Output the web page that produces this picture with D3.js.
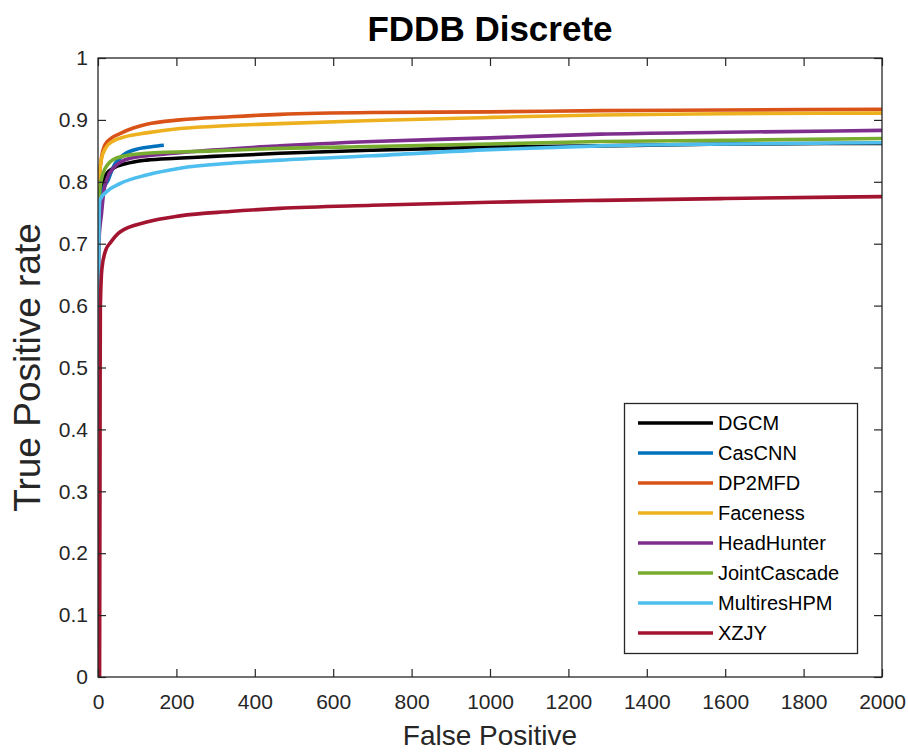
<!DOCTYPE html>
<html><head><meta charset="utf-8">
<script src="https://cdn.jsdelivr.net/npm/d3@7"></script>
<style>
html,body{margin:0;padding:0;background:#fff;}
text{font-family:"Liberation Sans",Arial,Helvetica,sans-serif;}
</style></head>
<body><svg id="chart" width="908" height="753"></svg>
<script>
// ---- data (False Positive, True Positive rate) ----
const seriesNames = ["DGCM","CasCNN","DP2MFD","Faceness","HeadHunter","JointCascade","MultiresHPM","XZJY"];
const dgcm = [[0,0.55],[1,0.70],[3,0.76],[8,0.79],[15,0.805],[22,0.813],[39,0.822],[70,0.829],[124,0.835],[200,0.838],[294,0.841],[464,0.846],[700,0.851],[1000,0.856],[1281,0.858],[1600,0.861],[2000,0.862]];
const cascnn = [[0,0.60],[1,0.70],[5,0.76],[12,0.785],[26,0.803],[39,0.824],[64,0.843],[107,0.854],[140,0.857],[168,0.859]];
const dp2mfd = [[0,0.60],[1,0.73],[3,0.80],[8,0.835],[18,0.860],[35,0.871],[56,0.878],[90,0.887],[124,0.893],[209,0.900],[337,0.905],[464,0.909],[700,0.912],[1000,0.913],[1281,0.915],[1600,0.916],[2000,0.917]];
const faceness = [[0,0.60],[1,0.73],[3,0.80],[8,0.835],[20,0.855],[39,0.866],[70,0.873],[124,0.879],[209,0.886],[337,0.891],[464,0.894],[700,0.899],[1000,0.904],[1281,0.908],[1600,0.910],[2000,0.911]];
const headhunter = [[0,0.55],[2,0.70],[9,0.749],[15,0.785],[22,0.803],[39,0.822],[82,0.838],[209,0.847],[464,0.858],[700,0.865],[1000,0.871],[1281,0.877],[1600,0.880],[2000,0.883]];
const jointcascade = [[0,0.60],[1,0.72],[5,0.79],[13,0.814],[25,0.828],[39,0.836],[70,0.842],[124,0.846],[294,0.850],[464,0.854],[700,0.857],[1000,0.861],[1281,0.865],[1600,0.867],[2000,0.870]];
const multireshpm = [[0,0.40],[1,0.55],[2,0.70],[3,0.75],[5,0.771],[22,0.784],[56,0.797],[124,0.811],[209,0.822],[337,0.830],[464,0.835],[700,0.842],[1000,0.852],[1281,0.858],[1600,0.861],[2000,0.863]];
const xzjy = [[4,0.0],[5,0.30],[5.5,0.50],[6,0.598],[10,0.66],[20,0.69],[31,0.701],[56,0.719],[124,0.735],[209,0.745],[337,0.752],[464,0.757],[700,0.762],[1000,0.767],[1281,0.770],[1600,0.773],[2000,0.776]];
const seriesData = [dgcm,cascnn,dp2mfd,faceness,headhunter,jointcascade,multireshpm,xzjy];
const xTicks = [0,200,400,600,800,1000,1200,1400,1600,1800,2000];
const yTicks = [0,0.1,0.2,0.3,0.4,0.5,0.6,0.7,0.8,0.9,1];
const colors = ["#000000","#0072BD","#D95319","#EDB120","#7E2F8E","#77AC30","#4DBEEE","#A2142F"];

// ---- layout ----
const svg = d3.select("#chart");
const L=98, R=882, T=58, B=677;
const x = d3.scaleLinear().domain([0,2000]).range([L,R]);
const y = d3.scaleLinear().domain([0,1]).range([B,T]);
const axisColor = "#262626";
const tickLen = 8;

svg.append("defs").append("clipPath").attr("id","clip")
  .append("rect").attr("x",L).attr("y",T).attr("width",R-L).attr("height",B-T);

// curves
const line = d3.line().x(d=>x(d[0])).y(d=>y(d[1])).curve(d3.curveMonotoneX);
const g = svg.append("g").attr("clip-path","url(#clip)");
seriesData.forEach((s,i)=>{
  g.append("path").attr("d",line(s)).attr("fill","none")
   .attr("stroke",colors[i]).attr("stroke-width",3.6)
   .attr("stroke-linejoin","round").attr("stroke-linecap","butt");
});

// axes (MATLAB style box, inward ticks)
function styleAxis(sel){
  sel.select(".domain").remove();
  sel.selectAll(".tick line").attr("stroke",axisColor).attr("stroke-width",1.2);
  sel.selectAll(".tick text").attr("fill",axisColor).style("font-size","21px");
}
const fmtY = d=> d===0?"0":(d===1?"1":d3.format(".1f")(d));
svg.append("g").attr("transform",`translate(0,${B})`)
  .call(d3.axisBottom(x).tickValues(xTicks).tickSizeInner(-tickLen).tickSizeOuter(0).tickPadding(17).tickFormat(d3.format("d")))
  .call(styleAxis);
svg.append("g").attr("transform",`translate(0,${T})`)
  .call(d3.axisTop(x).tickValues(xTicks).tickSizeInner(-tickLen).tickSizeOuter(0).tickFormat(""))
  .call(styleAxis);
svg.append("g").attr("transform",`translate(${L},0)`)
  .call(d3.axisLeft(y).tickValues(yTicks).tickSizeInner(-tickLen).tickSizeOuter(0).tickPadding(10).tickFormat(fmtY))
  .call(styleAxis);
svg.append("g").attr("transform",`translate(${R},0)`)
  .call(d3.axisRight(y).tickValues(yTicks).tickSizeInner(-tickLen).tickSizeOuter(0).tickFormat(""))
  .call(styleAxis);
svg.append("rect").attr("x",L).attr("y",T).attr("width",R-L).attr("height",B-T)
  .attr("fill","none").attr("stroke",axisColor).attr("stroke-width",1.3);

// title and labels
svg.append("text").attr("x",(L+R)/2).attr("y",41).attr("text-anchor","middle")
  .style("font-size","35px").style("font-weight","bold").attr("fill","#000").text("FDDB Discrete");
svg.append("text").attr("x",(L+R)/2).attr("y",745).attr("text-anchor","middle")
  .style("font-size","28px").attr("fill",axisColor).text("False Positive");
svg.append("text").attr("transform",`translate(40,${(T+B)/2}) rotate(-90)`).attr("text-anchor","middle")
  .style("font-size","37px").attr("fill",axisColor).text("True Positive rate");

// legend
const lg = svg.append("g");
lg.append("rect").attr("x",624.5).attr("y",403.5).attr("width",233).attr("height",250)
  .attr("fill","#fff").attr("stroke",axisColor).attr("stroke-width",1.3);
seriesNames.forEach((n,i)=>{
  const yy = 423 + i*30;
  lg.append("line").attr("x1",638).attr("x2",713).attr("y1",yy).attr("y2",yy)
    .attr("stroke",colors[i]).attr("stroke-width",3.6);
  lg.append("text").attr("x",718).attr("y",yy).attr("dy","0.36em")
    .style("font-size","20px").attr("fill","#000").text(n);
});
</script></body></html>
